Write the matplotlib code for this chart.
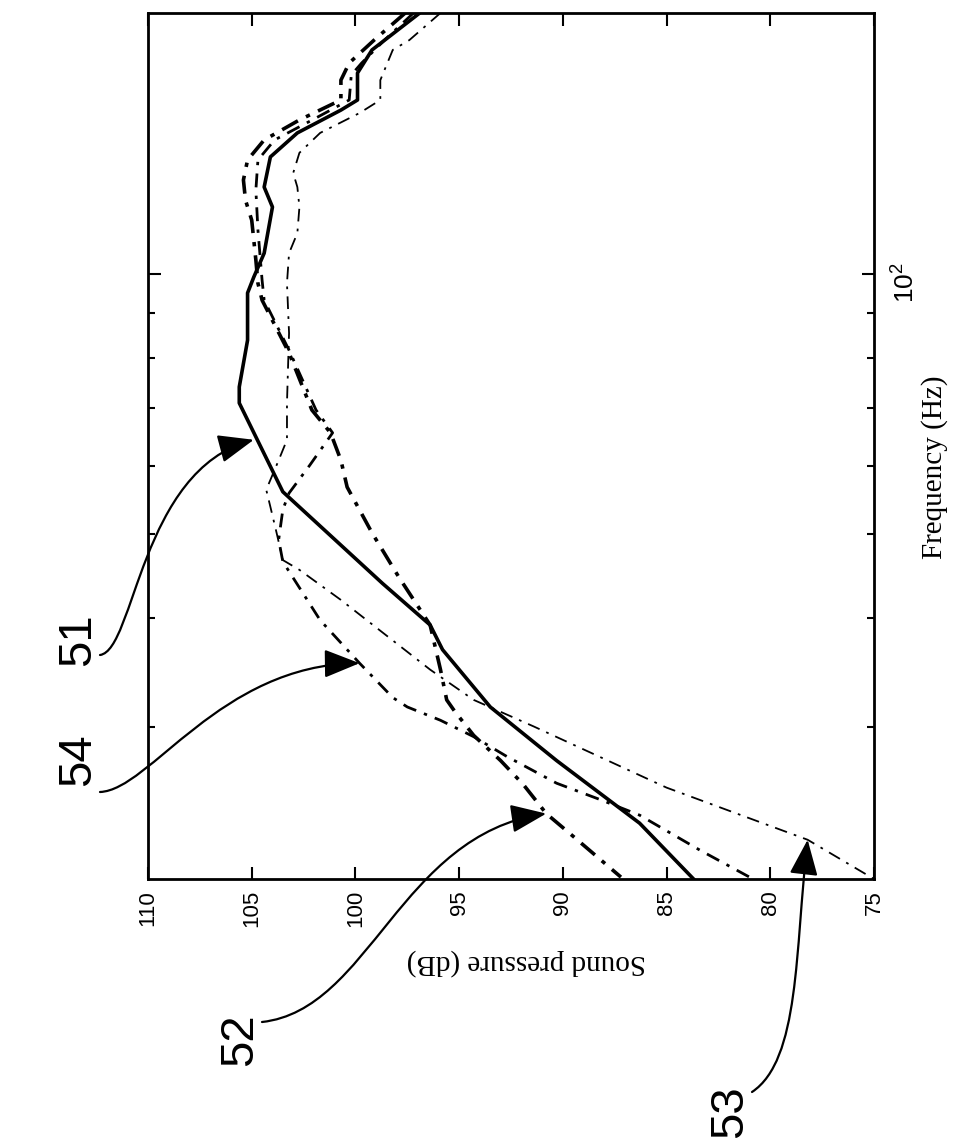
import matplotlib
matplotlib.use('Agg')
import matplotlib.pyplot as plt
from matplotlib.path import Path
from matplotlib.patches import FancyArrowPatch
from matplotlib.ticker import NullFormatter

plt.rcParams['font.family'] = ['Liberation Sans', 'DejaVu Sans']
plt.rcParams['mathtext.fontset'] = 'custom'
plt.rcParams['mathtext.rm'] = 'Liberation Sans'

# curve 51 (solid)
freq_51 = [200, 181.3, 170.5, 158.7, 154.5, 145.4, 136.4, 125.9, 119.4, 105.6, 99.1, 95.0,
           83.8, 74.0, 70.9, 64.8, 56.0, 43.9, 39.3, 36.8, 31.6, 27.4, 23.2, 20.0]
spl_51 = [96.9, 99.2, 99.9, 99.9, 100.7, 102.8, 104.1, 104.4, 104.0, 104.4, 104.9, 105.2,
          105.2, 105.6, 105.6, 104.8, 103.5, 98.7, 96.4, 95.8, 93.5, 90.3, 86.3, 83.7]

# curve 52 (heavy dash-dot)
freq_52 = [200, 186.1, 175.1, 167.3, 158.7, 150.5, 142.7, 135.3, 128.3, 121.6, 115.3, 103.7,
           97.5, 93.2, 81.0, 69.6, 65.5, 60.9, 56.7, 50.2, 44.6, 39.3, 34.9, 32.2, 31.2,
           29.3, 27.4, 25.7, 23.8, 22.4, 20.1]
spl_52 = [97.6, 99.1, 100.3, 100.7, 100.7, 102.7, 104.4, 105.2, 105.4, 105.3, 105.0, 104.8,
          104.7, 104.5, 103.2, 102.1, 101.2, 100.7, 100.4, 99.2, 97.9, 96.4, 95.9, 95.6, 95.2,
          94.3, 93.0, 91.9, 90.8, 89.5, 87.2]

# curve 53 (thin dash-dot)
freq_53 = [200, 186.1, 181.3, 167.3, 158.7, 153.3, 145.4, 137.9, 130.7, 125.9, 119.4, 111.4,
           105.6, 97.5, 85.4, 70.9, 64.3, 60.9, 56.3, 53.8, 50.2, 46.7, 45.5, 42.0, 34.9,
           32.2, 30.0, 25.5, 22.2, 20.0]
spl_53 = [95.9, 97.4, 98.2, 98.8, 98.8, 99.8, 101.7, 102.7, 103.0, 102.8, 102.7, 102.8,
          103.2, 103.3, 103.2, 103.3, 103.3, 103.7, 104.3, 104.1, 103.8, 103.5, 102.7, 100.7,
          96.4, 94.3, 91.4, 85.0, 78.2, 75.0]

# curve 54 (dash-dot)
freq_54 = [200, 186.1, 175.1, 169.6, 158.7, 151.3, 142.7, 135.3, 124.9, 112.3, 105.1, 98.3,
           93.2, 81.6, 69.6, 65.5, 60.1, 55.8, 53.4, 49.3, 46.5, 39.8, 35.5, 32.4, 31.6,
           30.5, 29.2, 27.7, 25.8, 24.7, 23.7, 21.6, 20.1]
spl_54 = [97.2, 98.6, 99.7, 100.2, 100.3, 101.9, 103.9, 104.7, 104.8, 104.7, 104.6, 104.5,
          104.4, 103.2, 101.9, 101.1, 102.2, 103.2, 103.5, 103.7, 103.5, 101.7, 99.8, 98.2,
          97.5, 95.9, 94.3, 92.7, 90.3, 88.2, 86.3, 83.4, 81.0]

db_ticks = [110, 105, 100, 95, 90, 85, 80, 75]
freq_minor = [30, 40, 50, 60, 70, 80, 90]

# reference numerals and the curve points their arrows touch
ref_names = ['51', '52', '53', '54']
tip_spl = [104.9, 90.8, 78.2, 99.8]
tip_freq = [64.3, 23.8, 22.2, 35.5]

W, H = 958, 1138
fig = plt.figure(figsize=(W / 100, H / 100), dpi=100)
ax = fig.add_axes([148 / W, 1 - 879 / H, 726 / W, 866 / H])

ax.plot(spl_51, freq_51, color='k', lw=2.6, solid_joinstyle='round')
ax.plot(spl_52, freq_52, color='k', lw=2.6, linestyle=(0, (5, 2.5, 1.2, 2.5)))
ax.plot(spl_54, freq_54, color='k', lw=2.0, linestyle=(0, (5, 3, 1.2, 3)))
ax.plot(spl_53, freq_53, color='k', lw=1.3, linestyle=(0, (7, 4, 1.5, 4)))

ax.set_yscale('log')
ax.set_ylim(20, 200)
ax.set_xlim(110, 75)

ax.set_xticks(db_ticks)
ax.set_xticklabels([str(t) for t in db_ticks], rotation=90, fontsize=16)
ax.set_yticks([100])
ax.set_yticklabels(['$10^2$'], rotation=90, fontsize=19)
ax.set_yticks(freq_minor, minor=True)
ax.yaxis.set_minor_formatter(NullFormatter())

ax.tick_params(axis='both', which='both', direction='in', top=True, bottom=True,
               left=True, right=True, width=1.5)
ax.tick_params(axis='both', which='major', length=9)
ax.tick_params(axis='both', which='minor', length=5)
ax.tick_params(axis='x', pad=8)
ax.tick_params(axis='y', labelleft=False, labelright=True, pad=12)
for side in ['top', 'bottom', 'left', 'right']:
    ax.spines[side].set_linewidth(2)

ax.set_xlabel('Sound pressure (dB)', rotation=180, ha='center', va='center',
              fontsize=21, family=['Liberation Serif', 'DejaVu Serif'])
ax.xaxis.set_label_coords(0.521, -0.096)
ax.yaxis.set_label_position('right')
ax.set_ylabel('Frequency (Hz)', rotation=90, ha='center', va='center',
              fontsize=21, family=['Liberation Serif', 'DejaVu Serif'])
ax.yaxis.set_label_coords(1.083, 0.476)


def fxy(x, y):
    return (x / W, 1 - y / H)


def tip_fig(s, f):
    return tuple(fig.transFigure.inverted().transform(ax.transData.transform((s, f))))


# label position, arrow start and bezier controls (figure pixels)
label_pos = {'51': (78, 640), '52': (240, 1040), '53': (730, 1112), '54': (78, 760)}
arrow_ctrl = {'51': [(100, 655), (135, 650), (140, 470)],
              '52': [(262, 1022), (370, 1010), (400, 835)],
              '53': [(752, 1092), (800, 1060), (795, 950)],
              '54': [(100, 792), (150, 790), (220, 665)]}

for name, s, f in zip(ref_names, tip_spl, tip_freq):
    lx, ly = label_pos[name]
    fig.text(lx / W, 1 - ly / H, name, rotation=90, ha='center', va='center', fontsize=34,
             family=['Liberation Sans Narrow', 'Liberation Sans', 'DejaVu Sans'])
    verts = [fxy(*p) for p in arrow_ctrl[name]] + [tip_fig(s, f)]
    path = Path(verts, [Path.MOVETO, Path.CURVE4, Path.CURVE4, Path.CURVE4])
    arr = FancyArrowPatch(path=path, arrowstyle='-|>,head_length=1.0,head_width=0.4',
                          mutation_scale=22, lw=1.6, color='k', transform=fig.transFigure)
    fig.add_artist(arr)

fig.savefig('out.png', dpi=100)
